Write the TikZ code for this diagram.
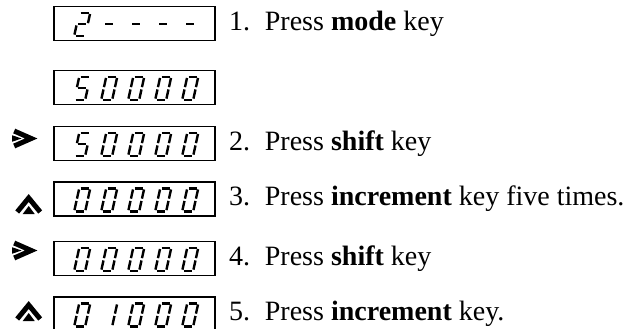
\documentclass[tikz,border=0pt]{standalone}
\usepackage{fontspec}
\setmainfont{Liberation Serif}
\usetikzlibrary{positioning,calc}

% seven segment pieces, unit cell 1 wide and 2 high
\tikzset{
  pics/sega/.style={code={\draw[seg] (0.12,2) -- (0.88,2);}},
  pics/segb/.style={code={\draw[seg] (1,1.9) -- (1,1.1);}},
  pics/segc/.style={code={\draw[seg] (1,0.9) -- (1,0.1);}},
  pics/segd/.style={code={\draw[seg] (0.12,0) -- (0.88,0);}},
  pics/sege/.style={code={\draw[seg] (0,0.1) -- (0,0.9);}},
  pics/segf/.style={code={\draw[seg] (0,1.1) -- (0,1.9);}},
  pics/segg/.style={code={\draw[seg] (0.12,1) -- (0.88,1);}},
  pics/shiftkey/.style={code={
    \draw[line width=5pt] (-12,7.5) -- (5,0) -- (-12,-7.5);
    \fill (-14,3.2) -- (-4.5,0) -- (-14,-3.2) -- cycle;}},
  pics/upkey/.style={code={
    \draw[line width=5pt] (-11.5,-8) -- (0,6) -- (11.5,-8);
    \fill (-6,-10) -- (0,-2) -- (6,-10) -- cycle;}}
}

% #1 display node, #2 five digits given as lists of lit segments
\newcommand{\readout}[2]{%
  \foreach \dg [count=\i] in {#2} {
    \begin{scope}[shift={($(#1.south west)+(\i*27-6,5.5)$)}, x=11pt, y=11.5pt, xslant=0.22]
      \foreach \s in \dg \pic[transform shape] {seg\s};
    \end{scope}
  }}

\begin{document}
\begin{tikzpicture}[x=1pt, y=1pt,
    disp/.style={draw, line width=1.6pt, minimum width=161pt, minimum height=34pt, inner sep=0pt},
    lbl/.style={anchor=west, inner sep=0pt, font=\fontsize{28}{34}\selectfont},
    seg/.style={line width=2.4pt}]
    \useasboundingbox (0,0) rectangle (641,-329);

    % displays
    \node[disp] (disp1) at (134.5,-23.5) {};
    \node[disp] (disp2) at (134.5,-87.5) {};
    \node[disp] (disp3) at (134.5,-143.5) {};
    \node[disp] (disp4) at (134.5,-199) {};
    \node[disp] (disp5) at (134.5,-258.5) {};
    \node[disp] (disp6) at (134.5,-314) {};

    % what each display reads
    \readout{disp1}{{a,b,g,e,d},{g},{g},{g},{g}}
    \readout{disp2}{{a,f,g,c,d},{a,b,c,d,e,f},{a,b,c,d,e,f},{a,b,c,d,e,f},{a,b,c,d,e,f}}
    \readout{disp3}{{a,f,g,c,d},{a,b,c,d,e,f},{a,b,c,d,e,f},{a,b,c,d,e,f},{a,b,c,d,e,f}}
    \readout{disp4}{{a,b,c,d,e,f},{a,b,c,d,e,f},{a,b,c,d,e,f},{a,b,c,d,e,f},{a,b,c,d,e,f}}
    \readout{disp5}{{a,b,c,d,e,f},{a,b,c,d,e,f},{a,b,c,d,e,f},{a,b,c,d,e,f},{a,b,c,d,e,f}}
    \readout{disp6}{{a,b,c,d,e,f},{b,c},{a,b,c,d,e,f},{a,b,c,d,e,f},{a,b,c,d,e,f}}

    % keys pressed
    \coordinate[above left=5pt and 27pt of disp3.west] (key3);
    \coordinate[below left=5pt and 24.5pt of disp4.west] (key4);
    \coordinate[above left=8pt and 27pt of disp5.west] (key5);
    \coordinate[above left=3pt and 24.5pt of disp6.west] (key6);
    \pic at (key3) {shiftkey};
    \pic at (key4) {upkey};
    \pic at (key5) {shiftkey};
    \pic at (key6) {upkey};

    % steps
    \node[lbl, right=13pt of disp1] (lbl1) {1.\hspace{0.2em} Press \textbf{mode} key};
    \node[lbl, right=13pt of disp3] (lbl2) {2.\hspace{0.2em} Press \textbf{shift} key};
    \node[lbl, right=13pt of disp4] (lbl3) {3.\hspace{0.2em} Press \textbf{increment} key five times.};
    \node[lbl, right=13pt of disp5] (lbl4) {4.\hspace{0.2em} Press \textbf{shift} key};
    \node[lbl, right=13pt of disp6] (lbl5) {5.\hspace{0.2em} Press \textbf{increment} key.};
\end{tikzpicture}
\end{document}
